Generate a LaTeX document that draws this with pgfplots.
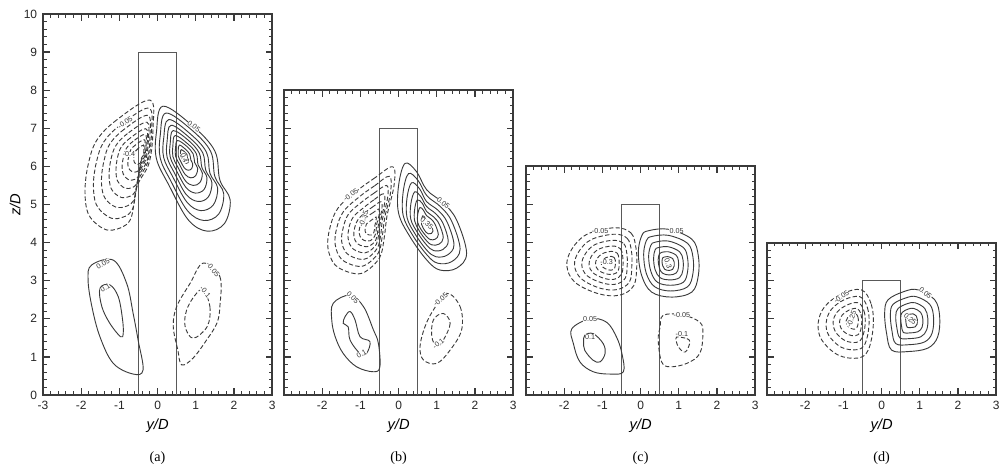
\documentclass[border=0pt]{standalone}
\usepackage{fontspec}
\setmainfont{Liberation Sans}
\newfontfamily\tnr{Liberation Serif}
\usepackage{pgfplots}
\pgfplotsset{compat=1.18}
\definecolor{ln}{HTML}{3A3A3A}
\pgfplotsset{
 panel/.style={
  scale only axis, anchor=south west,
  x=22.92pt, y=22.86pt,
  xmin=-3, xmax=3, ymin=0,
  xtick={-3,...,3},
  minor x tick num=4, minor y tick num=4,
  tick align=inside, tick pos=both,
  xticklabel pos=left, yticklabel pos=left,
  major tick length=4pt, minor tick length=2.2pt,
  major tick style={line width=0.8pt, draw=ln},
  minor tick style={line width=0.6pt, draw=ln},
  axis line style={line width=1.3pt, draw=ln},
  ticklabel style={font=\fontsize{7.2}{8}\selectfont, text=black!85},
  xlabel={\textit{y/D}},
  xlabel style={at={(axis description cs:0.5,0)}, anchor=center, yshift=-18.5pt, font=\fontsize{8.8}{10}\selectfont},
  clip=false,
 },
 pc/.style={line width=0.55pt, draw=ln, smooth cycle, tension=0.6, mark=none},
 nc/.style={pc, dash pattern=on 2.6pt off 1.4pt},
 rect/.style={line width=0.5pt, draw=black!65, mark=none},
}
\tikzset{
 clab/.style={font=\fontsize{4.3}{5}\selectfont, fill=white, inner sep=0.1pt, text=black!80},
 plab/.style={font=\tnr\fontsize{8.5}{10}\selectfont, yshift=-37.8pt},
}
\begin{document}
\begin{tikzpicture}
% ---------------- (a) ----------------
\begin{axis}[panel, at={(0pt,0pt)}, ymax=10, ytick={0,...,10},
  xticklabels={-3,-2,-1,0,1,2,3}, yticklabels={0,1,2,3,4,5,6,7,8,9,10},
  ylabel={\textit{z/D}},
  ylabel style={at={(axis description cs:-0.122,0.5)}, anchor=center, font=\fontsize{8.8}{10}\selectfont}]
\addplot[rect] coordinates {(-0.5,0) (-0.5,9) (0.5,9) (0.5,0)};
% positive upper
\addplot[pc] coordinates {(0.14,7.58) (0.93,7.05) (1.5,6.4) (1.63,5.64) (1.9,5.12) (1.75,4.5) (1.3,4.3) (0.8,4.6) (0.3,5.5) (-0.03,6.2) (-0.03,6.9)};
\addplot[pc] coordinates {(0.22,7.40) (0.90,6.95) (1.39,6.39) (1.50,5.73) (1.73,5.29) (1.60,4.75) (1.21,4.58) (0.78,4.84) (0.35,5.61) (0.07,6.21) (0.07,6.82)};
\addplot[pc] coordinates {(0.29,7.23) (0.86,6.85) (1.28,6.37) (1.37,5.82) (1.57,5.44) (1.46,4.99) (1.13,4.84) (0.77,5.06) (0.40,5.72) (0.16,6.23) (0.16,6.74)};
\addplot[pc] coordinates {(0.35,7.08) (0.83,6.76) (1.18,6.36) (1.26,5.90) (1.42,5.58) (1.33,5.20) (1.06,5.08) (0.75,5.26) (0.45,5.81) (0.25,6.24) (0.25,6.67)};
\addplot[pc] coordinates {(0.41,6.94) (0.81,6.68) (1.09,6.35) (1.16,5.97) (1.29,5.71) (1.22,5.40) (0.99,5.30) (0.74,5.45) (0.49,5.90) (0.33,6.25) (0.33,6.60)};
\addplot[pc] coordinates {(0.46,6.81) (0.78,6.60) (1.01,6.34) (1.06,6.04) (1.17,5.83) (1.11,5.58) (0.93,5.50) (0.73,5.62) (0.53,5.98) (0.40,6.26) (0.40,6.54)};
\addplot[pc] coordinates {(0.52,6.68) (0.76,6.53) (0.93,6.33) (0.97,6.10) (1.05,5.95) (1.00,5.76) (0.87,5.70) (0.72,5.79) (0.57,6.06) (0.47,6.27) (0.47,6.48)};
\addplot[pc] coordinates {(0.57,6.56) (0.73,6.45) (0.84,6.32) (0.87,6.17) (0.92,6.06) (0.89,5.94) (0.80,5.90) (0.70,5.96) (0.60,6.14) (0.54,6.28) (0.54,6.42)};
\addplot[pc] coordinates {(0.62,6.44) (0.71,6.38) (0.77,6.31) (0.78,6.23) (0.81,6.17) (0.80,6.10) (0.75,6.08) (0.69,6.11) (0.64,6.21) (0.60,6.29) (0.60,6.37)};
% negative upper
\addplot[nc] coordinates {(-0.20,7.74) (-1.07,7.22) (-1.59,6.69) (-1.81,6.08) (-1.90,5.38) (-1.82,4.77) (-1.51,4.42) (-1.17,4.33) (-0.72,4.59) (-0.54,5.47) (-0.22,6.1) (-0.12,7.0)};
\addplot[nc] coordinates {(-0.23,7.53) (-0.97,7.09) (-1.41,6.64) (-1.60,6.12) (-1.68,5.53) (-1.61,5.01) (-1.34,4.71) (-1.05,4.63) (-0.67,4.85) (-0.52,5.60) (-0.25,6.14) (-0.16,6.90)};
\addplot[nc] coordinates {(-0.26,7.34) (-0.88,6.97) (-1.25,6.59) (-1.40,6.16) (-1.47,5.66) (-1.41,5.23) (-1.19,4.98) (-0.95,4.92) (-0.63,5.10) (-0.50,5.73) (-0.27,6.17) (-0.20,6.81)};
\addplot[nc] coordinates {(-0.28,7.16) (-0.79,6.86) (-1.09,6.55) (-1.22,6.19) (-1.27,5.79) (-1.22,5.43) (-1.04,5.23) (-0.85,5.18) (-0.59,5.33) (-0.48,5.84) (-0.30,6.21) (-0.24,6.73)};
\addplot[nc] coordinates {(-0.31,6.99) (-0.71,6.75) (-0.95,6.51) (-1.05,6.23) (-1.09,5.90) (-1.05,5.62) (-0.91,5.46) (-0.75,5.42) (-0.55,5.54) (-0.46,5.95) (-0.32,6.24) (-0.27,6.65)};
\addplot[nc] coordinates {(-0.33,6.84) (-0.64,6.66) (-0.82,6.47) (-0.89,6.26) (-0.93,6.01) (-0.90,5.80) (-0.79,5.67) (-0.67,5.64) (-0.51,5.73) (-0.45,6.04) (-0.34,6.26) (-0.30,6.58)};
\addplot[nc] coordinates {(-0.35,6.70) (-0.57,6.57) (-0.70,6.44) (-0.75,6.28) (-0.78,6.11) (-0.76,5.96) (-0.68,5.87) (-0.59,5.85) (-0.48,5.91) (-0.44,6.13) (-0.36,6.29) (-0.33,6.51)};
\addplot[nc] coordinates {(-0.37,6.56) (-0.50,6.48) (-0.58,6.40) (-0.61,6.31) (-0.63,6.20) (-0.61,6.11) (-0.57,6.06) (-0.52,6.05) (-0.45,6.09) (-0.42,6.22) (-0.37,6.31) (-0.36,6.45)};
% lower
\addplot[pc] coordinates {(-1.73,3.41) (-1.16,3.54) (-0.81,2.93) (-0.64,2.14) (-0.51,1.44) (-0.38,0.66) (-0.64,0.55) (-1.16,0.83) (-1.51,1.53) (-1.72,2.32) (-1.82,3.02)};
\addplot[pc] coordinates {(-1.51,2.80) (-1.25,2.89) (-1.03,2.58) (-0.92,2.0) (-0.90,1.62) (-0.97,1.53) (-1.25,1.88) (-1.46,2.32)};
\addplot[nc] coordinates {(1.19,3.46) (1.63,3.11) (1.63,2.32) (1.55,1.88) (1.28,1.44) (0.93,0.97) (0.63,0.79) (0.53,1.18) (0.41,1.80) (0.50,2.32) (0.85,2.93)};
\addplot[nc] coordinates {(1.19,2.76) (1.37,2.32) (1.30,1.80) (0.93,1.49) (0.72,1.80) (0.76,2.23) (0.98,2.62)};
\node[clab, rotate=35] at (axis cs:-0.85,7.15) {-0.05};
\node[clab] at (axis cs:-0.75,6.32) {-0.4};
\node[clab, rotate=-35] at (axis cs:0.95,7.05) {0.05};
\node[clab, rotate=-70] at (axis cs:0.70,6.22) {0.4};
\node[clab, rotate=30] at (axis cs:-1.43,3.45) {0.05};
\node[clab, rotate=30] at (axis cs:-1.37,2.80) {0.1};
\node[clab, rotate=-50] at (axis cs:1.45,3.30) {-0.05};
\node[clab, rotate=-50] at (axis cs:1.25,2.70) {-0.1};
\node[plab] at (axis description cs:0.5,0) {(a)};
\end{axis}
% ---------------- (b) ----------------
\begin{axis}[panel, at={(144.6pt,0pt)}, ymax=8, ytick={0,...,8},
  xticklabels={,-2,-1,0,1,2,3}, yticklabels={}]
\addplot[rect] coordinates {(-0.5,0) (-0.5,7) (0.5,7) (0.5,0)};
\addplot[pc] coordinates {(0.17,6.08) (0.47,5.86) (0.74,5.38) (1.17,5.04) (1.52,4.59) (1.78,3.72) (1.52,3.33) (1.08,3.28) (0.74,3.54) (0.30,4.15) (0.0,4.77) (0.0,5.5)};
\addplot[pc] coordinates {(0.26,5.81) (0.51,5.63) (0.74,5.23) (1.10,4.94) (1.39,4.56) (1.61,3.83) (1.39,3.50) (1.02,3.46) (0.74,3.68) (0.37,4.19) (0.12,4.71) (0.12,5.33)};
\addplot[pc] coordinates {(0.34,5.57) (0.55,5.41) (0.73,5.08) (1.03,4.85) (1.27,4.54) (1.45,3.94) (1.27,3.67) (0.97,3.63) (0.73,3.81) (0.43,4.23) (0.22,4.66) (0.22,5.17)};
\addplot[pc] coordinates {(0.42,5.33) (0.58,5.21) (0.73,4.95) (0.97,4.76) (1.16,4.51) (1.30,4.04) (1.16,3.82) (0.92,3.79) (0.73,3.94) (0.49,4.27) (0.32,4.61) (0.32,5.01)};
\addplot[pc] coordinates {(0.49,5.12) (0.62,5.03) (0.73,4.82) (0.91,4.68) (1.06,4.49) (1.17,4.13) (1.06,3.96) (0.87,3.94) (0.73,4.05) (0.54,4.31) (0.42,4.57) (0.42,4.87)};
\addplot[pc] coordinates {(0.56,4.92) (0.65,4.85) (0.73,4.71) (0.86,4.61) (0.96,4.47) (1.04,4.21) (0.96,4.09) (0.83,4.08) (0.73,4.16) (0.59,4.34) (0.50,4.53) (0.50,4.74)};
\addplot[pc] coordinates {(0.63,4.70) (0.68,4.67) (0.72,4.58) (0.80,4.53) (0.86,4.45) (0.90,4.30) (0.86,4.24) (0.78,4.23) (0.72,4.27) (0.65,4.37) (0.60,4.48) (0.60,4.60)};
\addplot[nc] coordinates {(-0.15,5.99) (-0.62,5.7) (-1.1,5.35) (-1.59,4.9) (-1.80,4.38) (-1.85,3.86) (-1.66,3.41) (-1.22,3.20) (-0.88,3.23) (-0.50,3.6) (-0.38,4.1) (-0.30,4.72) (-0.12,5.5)};
\addplot[nc] coordinates {(-0.24,5.74) (-0.63,5.49) (-1.03,5.20) (-1.44,4.82) (-1.62,4.38) (-1.66,3.95) (-1.50,3.57) (-1.13,3.39) (-0.85,3.42) (-0.53,3.73) (-0.43,4.15) (-0.36,4.67) (-0.21,5.32)};
\addplot[nc] coordinates {(-0.31,5.50) (-0.64,5.30) (-0.97,5.06) (-1.31,4.75) (-1.45,4.39) (-1.49,4.03) (-1.36,3.72) (-1.05,3.57) (-0.82,3.59) (-0.56,3.85) (-0.47,4.19) (-0.42,4.62) (-0.29,5.16)};
\addplot[nc] coordinates {(-0.39,5.28) (-0.65,5.12) (-0.91,4.92) (-1.18,4.68) (-1.30,4.39) (-1.32,4.10) (-1.22,3.86) (-0.98,3.74) (-0.79,3.76) (-0.58,3.96) (-0.52,4.24) (-0.47,4.58) (-0.37,5.01)};
\addplot[nc] coordinates {(-0.46,5.07) (-0.66,4.95) (-0.86,4.80) (-1.06,4.61) (-1.15,4.39) (-1.17,4.17) (-1.09,3.98) (-0.91,3.90) (-0.76,3.91) (-0.60,4.06) (-0.55,4.27) (-0.52,4.53) (-0.44,4.86)};
\addplot[nc] coordinates {(-0.52,4.88) (-0.66,4.79) (-0.81,4.69) (-0.95,4.55) (-1.02,4.39) (-1.03,4.24) (-0.97,4.10) (-0.84,4.04) (-0.74,4.05) (-0.63,4.16) (-0.59,4.31) (-0.57,4.50) (-0.51,4.73)};
\addplot[nc] coordinates {(-0.59,4.67) (-0.67,4.62) (-0.75,4.56) (-0.84,4.49) (-0.87,4.40) (-0.88,4.31) (-0.85,4.23) (-0.77,4.20) (-0.71,4.20) (-0.65,4.26) (-0.63,4.35) (-0.62,4.45) (-0.59,4.59)};
\addplot[pc] coordinates {(-1.71,2.41) (-1.27,2.62) (-0.92,2.32) (-0.66,1.71) (-0.53,1.36) (-0.49,0.74) (-0.66,0.61) (-1.10,0.74) (-1.45,1.09) (-1.66,1.53) (-1.75,1.97)};
\addplot[pc] coordinates {(-1.40,2.06) (-1.27,2.19) (-1.14,1.97) (-1.01,1.53) (-0.75,1.40) (-0.84,1.09) (-1.01,1.09) (-1.27,1.44) (-1.32,1.79) (-1.45,1.88)};
\addplot[nc] coordinates {(1.26,2.67) (1.61,2.32) (1.65,1.71) (1.35,1.18) (1.0,0.83) (0.65,0.92) (0.56,1.27) (0.69,1.79) (0.91,2.23)};
\addplot[nc] coordinates {(1.17,2.14) (1.35,1.88) (1.17,1.44) (1.0,1.27) (0.87,1.53) (0.91,1.97)};
\node[clab, rotate=35] at (axis cs:-1.25,5.25) {-0.05};
\node[clab, rotate=70] at (axis cs:-0.92,4.62) {-0.35};
\node[clab, rotate=-40] at (axis cs:1.17,5.04) {0.05};
\node[clab, rotate=-40] at (axis cs:0.74,4.50) {0.35};
\node[clab, rotate=-45] at (axis cs:-1.20,2.55) {0.05};
\node[clab, rotate=30] at (axis cs:-0.97,1.09) {0.1};
\node[clab, rotate=40] at (axis cs:1.10,2.50) {-0.05};
\node[clab, rotate=40] at (axis cs:1.04,1.35) {-0.1};
\node[plab] at (axis description cs:0.5,0) {(b)};
\end{axis}
% ---------------- (c) ----------------
\begin{axis}[panel, at={(289.8pt,0pt)}, ymax=6, ytick={0,...,6},
  xticklabels={,-2,-1,0,1,2,3}, yticklabels={}]
\addplot[rect] coordinates {(-0.5,0) (-0.5,5) (0.5,5) (0.5,0)};
\addplot[pc] coordinates {(0.20,4.31) (0.73,4.35) (1.34,4.09) (1.51,3.66) (1.51,3.13) (1.34,2.70) (0.81,2.57) (0.29,2.70) (0.03,3.13) (-0.06,3.74) (0.03,4.18)};
\addplot[pc] coordinates {(0.29,4.16) (0.73,4.19) (1.23,3.98) (1.37,3.62) (1.37,3.19) (1.23,2.84) (0.79,2.73) (0.37,2.84) (0.15,3.19) (0.08,3.69) (0.15,4.05)};
\addplot[pc] coordinates {(0.38,4.01) (0.73,4.04) (1.12,3.87) (1.23,3.59) (1.23,3.24) (1.12,2.96) (0.78,2.88) (0.44,2.96) (0.27,3.24) (0.21,3.64) (0.27,3.93)};
\addplot[pc] coordinates {(0.47,3.87) (0.73,3.89) (1.02,3.76) (1.11,3.55) (1.11,3.29) (1.02,3.08) (0.76,3.02) (0.51,3.08) (0.38,3.29) (0.34,3.59) (0.38,3.81)};
\addplot[pc] coordinates {(0.54,3.74) (0.72,3.76) (0.93,3.67) (0.99,3.52) (0.99,3.34) (0.93,3.20) (0.75,3.15) (0.57,3.20) (0.49,3.34) (0.46,3.55) (0.49,3.70)};
\addplot[pc] coordinates {(0.62,3.62) (0.72,3.63) (0.84,3.58) (0.88,3.49) (0.88,3.39) (0.84,3.30) (0.74,3.27) (0.63,3.30) (0.58,3.39) (0.56,3.51) (0.58,3.60)};
\addplot[nc] coordinates {(-0.67,4.39) (-0.25,4.25) (-0.12,3.85) (-0.10,3.39) (-0.18,2.87) (-0.55,2.62) (-1.11,2.66) (-1.72,2.96) (-1.93,3.39) (-1.80,3.83) (-1.40,4.22)};
\addplot[nc] coordinates {(-0.69,4.22) (-0.35,4.11) (-0.24,3.78) (-0.23,3.40) (-0.29,2.97) (-0.60,2.77) (-1.05,2.80) (-1.55,3.05) (-1.73,3.40) (-1.62,3.76) (-1.29,4.08)};
\addplot[nc] coordinates {(-0.72,4.06) (-0.44,3.97) (-0.36,3.71) (-0.35,3.41) (-0.40,3.07) (-0.64,2.91) (-1.00,2.94) (-1.40,3.13) (-1.54,3.41) (-1.45,3.70) (-1.19,3.95)};
\addplot[nc] coordinates {(-0.74,3.91) (-0.53,3.84) (-0.47,3.65) (-0.46,3.42) (-0.50,3.17) (-0.68,3.04) (-0.95,3.06) (-1.25,3.21) (-1.35,3.42) (-1.29,3.64) (-1.09,3.83)};
\addplot[nc] coordinates {(-0.76,3.77) (-0.61,3.72) (-0.57,3.59) (-0.56,3.43) (-0.59,3.25) (-0.72,3.17) (-0.91,3.18) (-1.11,3.28) (-1.18,3.43) (-1.14,3.58) (-1.00,3.71)};
\addplot[nc] coordinates {(-0.77,3.64) (-0.69,3.61) (-0.66,3.53) (-0.66,3.44) (-0.68,3.33) (-0.75,3.28) (-0.86,3.29) (-0.98,3.35) (-1.03,3.44) (-1.00,3.53) (-0.92,3.60)};
\addplot[pc] coordinates {(-1.80,1.74) (-1.32,2.00) (-0.89,1.91) (-0.63,1.52) (-0.49,1.09) (-0.45,0.61) (-0.80,0.55) (-1.24,0.61) (-1.59,0.87) (-1.76,1.35)};
\addplot[pc] coordinates {(-1.46,1.57) (-1.24,1.61) (-0.98,1.35) (-0.93,1.09) (-1.06,0.87) (-1.24,0.91) (-1.46,1.17) (-1.49,1.39)};
\addplot[nc] coordinates {(0.59,2.09) (1.08,2.11) (1.55,1.91) (1.63,1.61) (1.55,1.09) (1.21,0.83) (0.77,0.74) (0.55,0.87) (0.46,1.44) (0.51,1.78)};
\addplot[nc] coordinates {(0.94,1.52) (1.21,1.48) (1.29,1.39) (1.21,1.17) (1.12,1.13) (0.99,1.26) (0.94,1.39)};
\node[clab] at (axis cs:-1.06,4.31) {-0.05};
\node[clab] at (axis cs:-0.89,3.50) {-0.3};
\node[clab] at (axis cs:0.94,4.31) {0.05};
\node[clab, rotate=-70] at (axis cs:0.72,3.45) {0.3};
\node[clab] at (axis cs:-1.32,2.00) {0.05};
\node[clab] at (axis cs:-1.32,1.52) {0.1};
\node[clab] at (axis cs:1.08,2.11) {-0.05};
\node[clab] at (axis cs:1.08,1.61) {-0.1};
\node[plab] at (axis description cs:0.5,0) {(c)};
\end{axis}
% ---------------- (d) ----------------
\begin{axis}[panel, at={(434.4pt,0pt)}, ymax=4, ytick={0,...,4},
  xticklabels={,-2,-1,0,1,2,3}, yticklabels={}]
\addplot[rect] coordinates {(-0.5,0) (-0.5,3) (0.5,3) (0.5,0)};
\addplot[pc] coordinates {(0.17,2.50) (0.60,2.72) (0.95,2.76) (1.39,2.50) (1.52,2.06) (1.47,1.53) (1.21,1.23) (0.69,1.14) (0.26,1.18) (0.13,1.62) (0.08,2.15)};
\addplot[pc] coordinates {(0.30,2.38) (0.64,2.55) (0.91,2.58) (1.26,2.38) (1.36,2.04) (1.32,1.62) (1.12,1.39) (0.71,1.32) (0.37,1.35) (0.27,1.69) (0.23,2.11)};
\addplot[pc] coordinates {(0.43,2.27) (0.68,2.40) (0.88,2.42) (1.13,2.27) (1.21,2.01) (1.18,1.71) (1.03,1.53) (0.73,1.48) (0.48,1.50) (0.40,1.76) (0.37,2.07)};
\addplot[pc] coordinates {(0.54,2.17) (0.71,2.26) (0.85,2.27) (1.02,2.17) (1.08,1.99) (1.06,1.78) (0.95,1.66) (0.74,1.63) (0.57,1.64) (0.52,1.82) (0.50,2.03)};
\addplot[pc] coordinates {(0.65,2.07) (0.74,2.12) (0.82,2.13) (0.91,2.07) (0.94,1.97) (0.93,1.86) (0.88,1.79) (0.76,1.77) (0.67,1.78) (0.64,1.88) (0.63,1.99)};
\addplot[nc] coordinates {(-0.53,2.76) (-0.27,2.38) (-0.22,1.80) (-0.35,1.18) (-0.62,0.97) (-1.14,1.05) (-1.57,1.45) (-1.66,1.89) (-1.49,2.32) (-1.05,2.65)};
\addplot[nc] coordinates {(-0.57,2.58) (-0.37,2.29) (-0.33,1.83) (-0.43,1.35) (-0.64,1.19) (-1.05,1.25) (-1.38,1.56) (-1.45,1.90) (-1.32,2.24) (-0.98,2.50)};
\addplot[nc] coordinates {(-0.61,2.42) (-0.46,2.20) (-0.43,1.86) (-0.51,1.50) (-0.66,1.38) (-0.96,1.43) (-1.21,1.66) (-1.27,1.92) (-1.17,2.17) (-0.91,2.36)};
\addplot[nc] coordinates {(-0.64,2.27) (-0.54,2.12) (-0.52,1.89) (-0.57,1.64) (-0.68,1.56) (-0.89,1.59) (-1.06,1.75) (-1.10,1.93) (-1.03,2.10) (-0.85,2.23)};
\addplot[nc] coordinates {(-0.68,2.13) (-0.62,2.05) (-0.61,1.92) (-0.64,1.78) (-0.70,1.73) (-0.81,1.75) (-0.91,1.84) (-0.93,1.94) (-0.89,2.03) (-0.79,2.10)};
\node[clab, rotate=35] at (axis cs:-1.05,2.58) {-0.05};
\node[clab, rotate=70] at (axis cs:-0.79,2.00) {-0.25};
\node[clab, rotate=-40] at (axis cs:1.15,2.68) {0.05};
\node[clab, rotate=-40] at (axis cs:0.75,2.00) {0.25};
\node[plab] at (axis description cs:0.5,0) {(d)};
\end{axis}
\pgfresetboundingbox
\useasboundingbox (-25.8pt,-44.4pt) rectangle (574.2pt,237pt);
\end{tikzpicture}
\end{document}
